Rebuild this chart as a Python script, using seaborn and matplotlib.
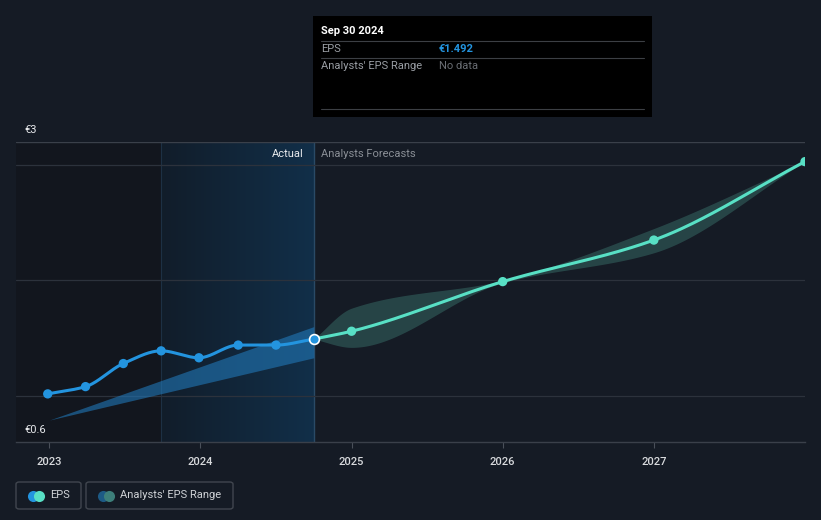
import numpy as np
import matplotlib
matplotlib.use("Agg")
import matplotlib.pyplot as plt
from matplotlib.patches import FancyBboxPatch, Rectangle
import seaborn as sns

# Data
past_x = [2022.99, 2023.24, 2023.49, 2023.74, 2023.99, 2024.25, 2024.5, 2024.75]
past_eps = [1.017, 1.08, 1.28, 1.39, 1.33, 1.44, 1.44, 1.492]

fc_x = [2024.75, 2025.0, 2026.0, 2027.0, 2028.0]
fc_eps = [1.492, 1.56, 1.99, 2.35, 3.03]
fc_low = [1.492, 1.42, 1.98, 2.24, 3.03]
fc_high = [1.492, 1.76, 2.00, 2.45, 3.03]

past_range_x = [2023.0, 2024.75]
past_range_low = [0.79, 1.33]
past_range_high = [0.79, 1.60]

year_ticks = [2023, 2024, 2025, 2026, 2027]
grid_vals = [1, 2, 3]

BG = "#151b25"
BLUE = "#2394df"
TEAL = "#58e0c5"


def smooth(x, y, n=60):
    # monotone cubic (Fritsch-Carlson) just for drawing the curves
    x = np.asarray(x, float)
    y = np.asarray(y, float)
    h = np.diff(x)
    d = np.diff(y) / h
    m = np.zeros_like(y)
    m[0], m[-1] = d[0], d[-1]
    for i in range(1, len(x) - 1):
        if d[i - 1] * d[i] <= 0:
            m[i] = 0
        else:
            w1 = 2 * h[i] + h[i - 1]
            w2 = h[i] + 2 * h[i - 1]
            m[i] = (w1 + w2) / (w1 / d[i - 1] + w2 / d[i])
    xs, ys = [], []
    for i in range(len(x) - 1):
        t = np.linspace(0, 1, n, endpoint=(i == len(x) - 2))
        h00 = 2 * t**3 - 3 * t**2 + 1
        h10 = t**3 - 2 * t**2 + t
        h01 = -2 * t**3 + 3 * t**2
        h11 = t**3 - t**2
        xs.append(x[i] + t * h[i])
        ys.append(h00 * y[i] + h10 * h[i] * m[i] + h01 * y[i + 1] + h11 * h[i] * m[i + 1])
    return np.concatenate(xs), np.concatenate(ys)


sns.set_style("dark")
plt.rcParams["font.family"] = ["Roboto", "DejaVu Sans"]

fig = plt.figure(figsize=(8.21, 5.2), dpi=100, facecolor=BG)
ax = fig.add_axes([16 / 821, 78 / 520, 789 / 821, 300 / 520])
ax.set_facecolor(BG)

x0, x1 = 2022.78, 2028.0
y0, y1 = 0.6, 3.2
ax.set_xlim(x0, x1)
ax.set_ylim(y0, y1)

# shaded history regions
ax.axvspan(x0, 2023.74, color="#12161e", zorder=0, lw=0)
grad = np.linspace(0, 1, 256).reshape(1, -1)
cmap = matplotlib.colors.LinearSegmentedColormap.from_list("g", ["#111d2a", "#122f49"])
ax.imshow(grad, extent=[2023.74, 2024.75, y0, y1], aspect="auto", cmap=cmap, zorder=0.5)
ax.axvline(2023.74, color="#1d3044", lw=0.8, zorder=1)
ax.axvline(2024.75, color="#2a4a66", lw=1, zorder=1)

for g in grid_vals:
    ax.axhline(g, color="#2c323c", lw=0.9, zorder=1)
ax.axhline(y1, color="#3a404a", lw=1, zorder=1)

# past analyst range wedge
ax.fill_between(past_range_x, past_range_low, past_range_high, color="#2178b8", alpha=0.6, lw=0, zorder=2)

# forecast range band
bx, bl = smooth(fc_x, fc_low)
_, bh = smooth(fc_x, fc_high)
ax.fill_between(bx, bl, bh, color="#2c5352", alpha=0.75, lw=0, zorder=2)

# EPS lines
sx, sy = smooth(past_x, past_eps)
sns.lineplot(x=sx, y=sy, ax=ax, color=BLUE, lw=2.2, zorder=3, sort=False)
sns.scatterplot(x=past_x[:-1], y=past_eps[:-1], ax=ax, color=BLUE, s=45, edgecolor="none", zorder=4)
fx, fy = smooth(fc_x, fc_eps)
sns.lineplot(x=fx, y=fy, ax=ax, color=TEAL, lw=2.2, zorder=3, sort=False)
sns.scatterplot(x=fc_x[1:], y=fc_eps[1:], ax=ax, color=TEAL, s=45, edgecolor="none", zorder=4)
ax.scatter([past_x[-1]], [past_eps[-1]], s=50, color=BLUE, edgecolor="white", lw=1.2, zorder=5)

# axes styling
ax.set_xticks(year_ticks)
ax.set_xticklabels([str(y) for y in year_ticks], color="#d8dadd", fontsize=8, fontweight="medium")
ax.set_yticks([])
ax.tick_params(axis="x", length=4, color="#4a505a", pad=7, bottom=True)
for s in ["top", "left", "right"]:
    ax.spines[s].set_visible(False)
ax.spines["bottom"].set_color("#3a404a")
ax.spines["bottom"].set_linewidth(1)
ax.grid(False)
ax.set_xlabel("")
ax.set_ylabel("")

fig.text(24 / 821, 1 - 130 / 520, "€3", color="#e8eaed", fontsize=8, va="center")
fig.text(24 / 821, 1 - 430 / 520, "€0.6", color="#e8eaed", fontsize=8, va="center")
fig.text(304 / 821, 1 - 154 / 520, "Actual", color="#e8eaed", fontsize=8, ha="right", va="center")
fig.text(321 / 821, 1 - 154 / 520, "Analysts Forecasts", color="#8a8f96", fontsize=8, ha="left", va="center")

# tooltip box
fig.patches.append(Rectangle((313 / 821, 1 - 117 / 520), 339 / 821, 101 / 520,
                             transform=fig.transFigure, facecolor="black", edgecolor="none"))
for yy in [41, 58, 109]:
    fig.add_artist(plt.Line2D([321 / 821, 644 / 821], [1 - yy / 520] * 2,
                              transform=fig.transFigure, color="#3c3f44", lw=0.8))
fig.text(321 / 821, 1 - 31 / 520, "Sep 30 2024", color="white", fontsize=8, fontweight="bold", va="center")
fig.text(321 / 821, 1 - 49 / 520, "EPS", color="#9a9ea4", fontsize=8, va="center")
fig.text(439 / 821, 1 - 49 / 520, "€1.492", color=BLUE, fontsize=8, fontweight="bold", va="center")
fig.text(321 / 821, 1 - 66 / 520, "Analysts' EPS Range", color="#9a9ea4", fontsize=8, va="center")
fig.text(439 / 821, 1 - 66 / 520, "No data", color="#6a6e74", fontsize=8, va="center")

# legend
def legend_item(xl, w, c1, c2, label):
    fig.patches.append(FancyBboxPatch((xl / 821, 1 - 509 / 520), w / 821, 27 / 520,
                                      boxstyle="round,pad=0,rounding_size=0.004",
                                      transform=fig.transFigure, facecolor="none",
                                      edgecolor="#41464f", lw=1))
    cy = 1 - 495.5 / 520
    fig.add_artist(plt.Line2D([(xl + 17) / 821], [cy], marker="o", ms=8, color=c1,
                              mec="none", transform=fig.transFigure))
    fig.add_artist(plt.Line2D([(xl + 23) / 821], [cy], marker="o", ms=8, color=c2,
                              mec="none", transform=fig.transFigure))
    fig.text((xl + 34) / 821, cy, label, color="#cfd2d6", fontsize=8, va="center")


legend_item(16, 65, BLUE, TEAL, "EPS")
legend_item(86, 147, "#1d5a85", "#3d7f7a", "Analysts' EPS Range")

fig.savefig("out.png", dpi=100, facecolor=BG)
